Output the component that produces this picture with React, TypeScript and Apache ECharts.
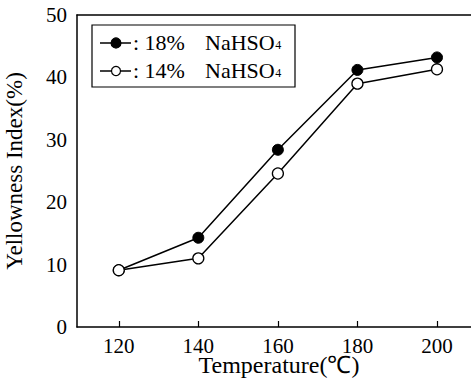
import React, { useEffect, useRef } from "react";
import * as echarts from "echarts";

const temperatures = [120, 140, 160, 180, 200];
const series18 = [9.1, 14.3, 28.4, 41.2, 43.2];
const series14 = [9.1, 11.0, 24.6, 39.0, 41.3];
const xTicks = [120, 140, 160, 180, 200];
const seriesNames = ["18%", "14%"];
const legendSalt = "NaHSO";
const legendSub = "4";

const FONT = "Liberation Serif";

export default function App() {
  const ref = useRef<HTMLDivElement>(null);
  useEffect(() => {
    if (!ref.current) return;
    document.body.style.margin = "0";
    const chart = echarts.init(ref.current, null, { renderer: "svg" });
    const mk = (vals: number[]) => temperatures.map((t, i) => [t, vals[i]]);

    let saltW = 70;
    const ctx = document.createElement("canvas").getContext("2d");
    if (ctx) {
      ctx.font = `22px "${FONT}"`;
      saltW = ctx.measureText(legendSalt).width;
    }

    const rowY = [42, 70];
    const legendItems: any[] = [
      {
        type: "rect",
        shape: { x: 92, y: 25, width: 203, height: 62 },
        style: { fill: "#fff", stroke: "#000", lineWidth: 1.2 },
        z: 10,
      },
    ];
    seriesNames.forEach((name, i) => {
      const y = rowY[i];
      legendItems.push(
        { type: "line", shape: { x1: 100, y1: y + 1, x2: 131, y2: y + 1 }, style: { stroke: "#000", lineWidth: 1.5 }, z: 11 },
        {
          type: "circle",
          shape: { cx: 116, cy: y + 1, r: i === 0 ? 5 : 4.5 },
          style: { fill: i === 0 ? "#000" : "#fff", stroke: "#000", lineWidth: 1.2 },
          z: 12,
        },
        {
          type: "text",
          x: 133,
          y: y,
          style: { text: `: ${name}`, fontFamily: FONT, fontSize: 22, fill: "#000", verticalAlign: "middle", align: "left" },
          z: 12,
        },
        {
          type: "text",
          x: 205,
          y: y,
          style: { text: legendSalt, fontFamily: FONT, fontSize: 22, fill: "#000", verticalAlign: "middle", align: "left" },
          z: 12,
        },
        {
          type: "text",
          x: 205 + saltW + 0.5,
          y: y + 9,
          style: { text: legendSub, fontFamily: FONT, fontSize: 12, fill: "#000", verticalAlign: "bottom", align: "left" },
          z: 12,
        }
      );
    });

    chart.setOption({
      animation: false,
      grid: {
        left: 77,
        top: 15,
        right: 0,
        bottom: 64,
        outerBoundsMode: "none",
        show: false,
      },
      graphic: legendItems,
      xAxis: [
        {
          type: "value",
          min: 109.5,
          max: 208.55,
          name: "Temperature(℃)",
          nameLocation: "middle",
          nameGap: 26,
          nameMoveOverlap: false,
          nameTextStyle: { fontFamily: FONT, fontSize: 24, color: "#000", padding: [0, 0, 0, 10] },
          axisLine: { show: true, onZero: false, lineStyle: { color: "#000", width: 1.5 } },
          axisTick: { show: true, inside: true, length: 6, customValues: xTicks, lineStyle: { color: "#000", width: 1.2 } },
          axisLabel: { customValues: xTicks, fontFamily: FONT, fontSize: 21, color: "#000", margin: 8 },
          splitLine: { show: false },
        },
        {
          type: "value",
          position: "top",
          min: 109.5,
          max: 208.55,
          axisLine: { show: true, onZero: false, lineStyle: { color: "#000", width: 1.5 } },
          axisTick: { show: false },
          axisLabel: { show: false },
          splitLine: { show: false },
        },
      ],
      yAxis: {
        type: "value",
        min: 0,
        max: 50,
        interval: 10,
        name: "Yellowness Index(%)",
        nameLocation: "middle",
        nameGap: 51,
        nameMoveOverlap: false,
        nameTextStyle: { fontFamily: FONT, fontSize: 23, color: "#000" },
        axisLine: { show: true, onZero: false, lineStyle: { color: "#000", width: 1.5 } },
        axisTick: { show: false },
        axisLabel: { fontFamily: FONT, fontSize: 21, color: "#000", margin: 10 },
        splitLine: { show: false },
      },
      series: [
        {
          name: seriesNames[0],
          type: "line",
          data: mk(series18),
          symbol: "circle",
          symbolSize: 11,
          itemStyle: { color: "#000", borderColor: "#000", borderWidth: 1 },
          lineStyle: { color: "#000", width: 1.5 },
          z: 3,
        },
        {
          name: seriesNames[1],
          type: "line",
          data: mk(series14),
          symbol: "circle",
          symbolSize: 11,
          itemStyle: { color: "#fff", borderColor: "#000", borderWidth: 1.3 },
          lineStyle: { color: "#000", width: 1.5 },
          z: 4,
        },
      ],
    });
    return () => chart.dispose();
  }, []);
  return <div ref={ref} style={{ width: 471, height: 391 }} />;
}
